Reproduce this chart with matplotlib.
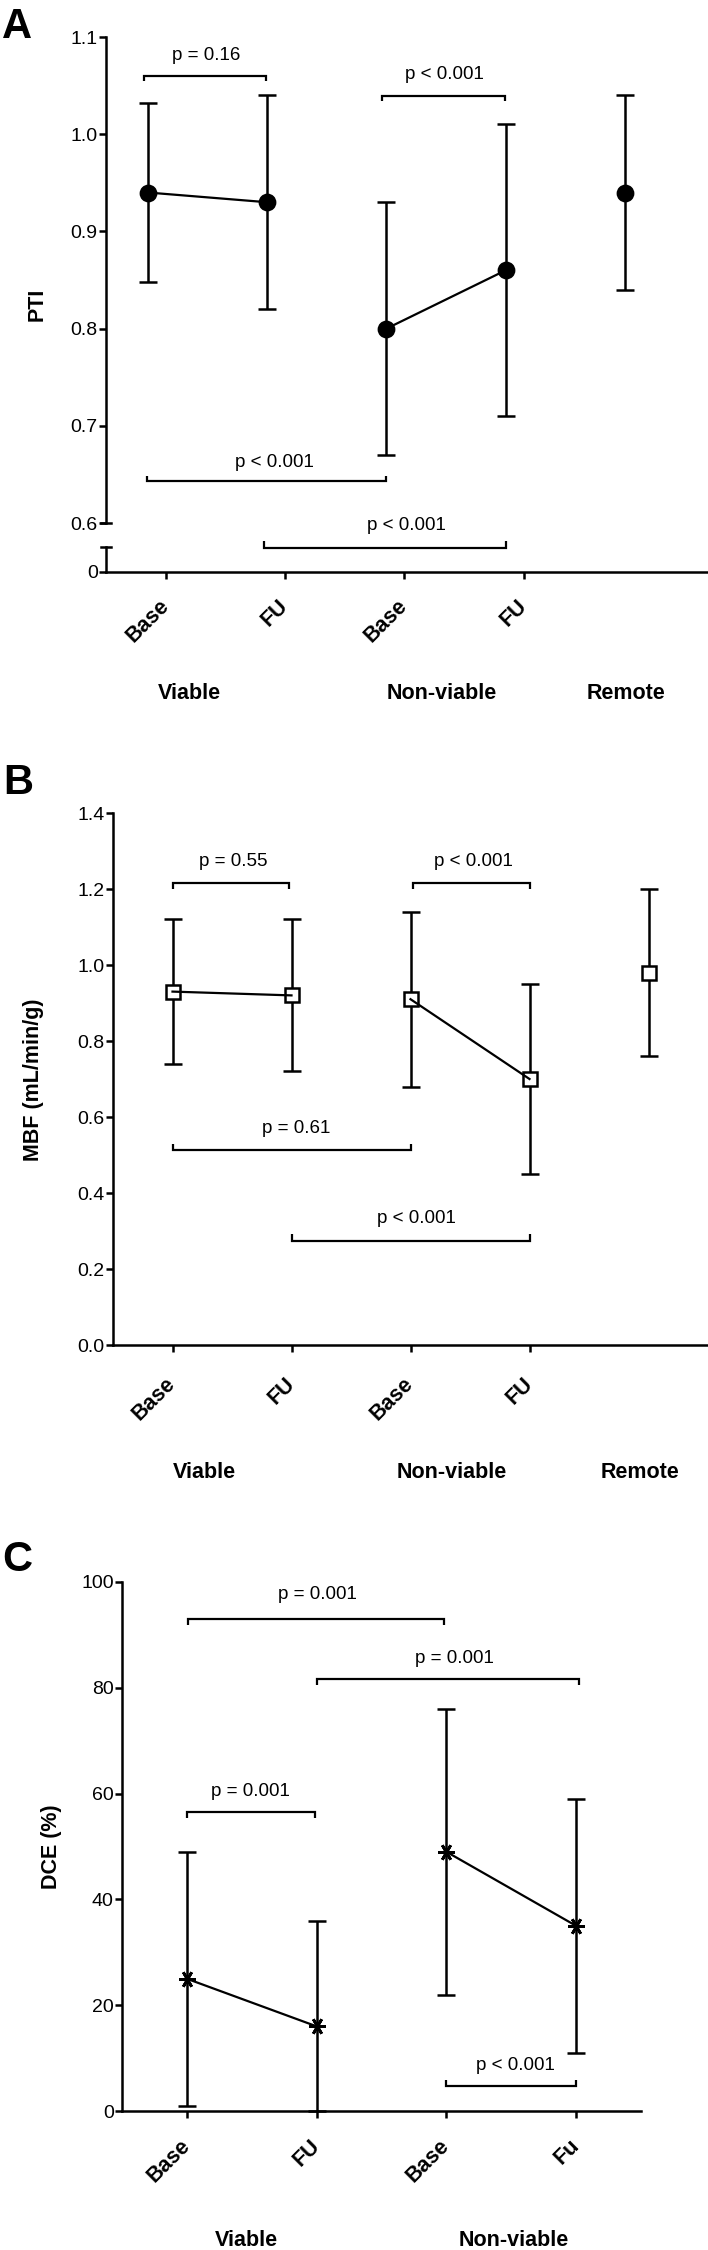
import matplotlib
matplotlib.use('Agg')
import matplotlib.pyplot as plt

plt.rcParams['font.family'] = ['Liberation Sans', 'DejaVu Sans']

# ---------------- data ----------------
pti_ticks = ['Base', 'FU', 'Base', 'FU']
pti_groups = ['Viable', 'Non-viable', 'Remote']
pti_mean = [0.94, 0.93, 0.80, 0.86, 0.94]
pti_low = [0.848, 0.82, 0.67, 0.71, 0.84]
pti_high = [1.032, 1.04, 0.93, 1.01, 1.04]
pti_pvals = ['p = 0.16', 'p < 0.001', 'p < 0.001', 'p < 0.001']

mbf_ticks = ['Base', 'FU', 'Base', 'FU']
mbf_groups = ['Viable', 'Non-viable', 'Remote']
mbf_mean = [0.93, 0.92, 0.91, 0.70, 0.98]
mbf_low = [0.74, 0.72, 0.68, 0.45, 0.76]
mbf_high = [1.12, 1.12, 1.14, 0.95, 1.20]
mbf_pvals = ['p = 0.55', 'p < 0.001', 'p = 0.61', 'p < 0.001']

dce_ticks = ['Base', 'FU', 'Base', 'Fu']
dce_groups = ['Viable', 'Non-viable']
dce_mean = [25, 16, 49, 35]
dce_low = [1, 0, 22, 11]
dce_high = [49, 36, 76, 59]
dce_pvals = ['p = 0.001', 'p = 0.001', 'p = 0.001', 'p < 0.001']

# ---------------- layout helpers ----------------
W, H = 708, 2250
fig = plt.figure(figsize=(W / 100, H / 100), dpi=100)


def rect(left, top, right, bottom):
    return [left / W, 1 - bottom / H, (right - left) / W, (bottom - top) / H]


LW = 1.8
TXT = 13.5
TICK = 14
BOLD = 15.5


def style(ax):
    ax.patch.set_visible(False)
    for s in ['top', 'right']:
        ax.spines[s].set_visible(False)
    for s in ['left', 'bottom']:
        ax.spines[s].set_linewidth(LW)
    ax.tick_params(direction='out', length=5, width=LW, labelsize=TICK, pad=1)


def bracket(ax, x1, x2, y, h, text, tx, ty):
    ax.plot([x1, x1, x2, x2], [y - h, y, y, y - h], color='black', lw=1.6,
            clip_on=False, solid_capstyle='butt', solid_joinstyle='miter', zorder=5)
    ax.text(tx, ty, text, ha='center', va='baseline', fontsize=TXT)


def draw_series(ax, x, mean, low, high, marker, ms, mfc, mew, pairs):
    yerr = [[m - l for m, l in zip(mean, low)], [h - m for m, h in zip(mean, high)]]
    ax.errorbar(x, mean, yerr=yerr, fmt='none', ecolor='black', elinewidth=LW,
                capsize=6.5, capthick=LW, zorder=2, clip_on=False)
    ax.plot(x, mean, linestyle='none', marker=marker, ms=ms, mfc=mfc, mec='black',
            mew=mew, zorder=3, clip_on=False)
    for a, b in pairs:
        ax.plot([x[a], x[b]], [mean[a], mean[b]], color='black', lw=1.6, zorder=4)


def group_labels(ax, xs, labels, ypix, va='center'):
    for xx, lab in zip(xs, labels):
        ax.annotate(lab, xy=(xx, 1 - ypix / H), xycoords=('data', 'figure fraction'),
                    ha='center', va=va, fontsize=BOLD, fontweight='bold',
                    annotation_clip=False)


# ================= Panel A =================
xa = list(range(len(pti_mean)))
axA_lo = fig.add_axes(rect(106, 547, 708, 572))
axA = fig.add_axes(rect(106, 37, 708, 523))
for ax in (axA, axA_lo):
    style(ax)
    ax.set_xlim(-0.352, 4.696)
axA.spines['bottom'].set_visible(False)
axA.set_ylim(0.6, 1.1)
axA.set_yticks([0.6, 0.7, 0.8, 0.9, 1.0, 1.1])
axA.set_yticklabels(['0.6', '0.7', '0.8', '0.9', '1.0', '1.1'])
axA.set_xticks([])
axA_lo.set_ylim(0, 1)
axA_lo.set_yticks([0])
axA_lo.set_yticklabels(['0'])
axA_lo.set_xticks([i + 0.15 for i in range(len(pti_ticks))])
axA_lo.set_xticklabels(pti_ticks, rotation=45, ha='right', va='center',
                       rotation_mode='anchor', fontweight='bold', fontsize=BOLD)
axA_lo.tick_params(axis='x', pad=17)
# break caps
capw = 5 / 602
axA.plot([-capw, capw], [0, 0], transform=axA.transAxes, color='black', lw=LW, clip_on=False)
axA_lo.plot([-capw, capw], [1, 1], transform=axA_lo.transAxes, color='black', lw=LW, clip_on=False)

draw_series(axA, xa, pti_mean, pti_low, pti_high, 'o', 11, 'black', LW, [(0, 1), (2, 3)])
bracket(axA, -0.03, 0.99, 1.060, 0.005, pti_pvals[0], 0.49, 1.076)
bracket(axA, 1.96, 2.99, 1.039, 0.005, pti_pvals[1], 2.49, 1.057)
bracket(axA, -0.01, 2.00, 0.643, -0.005, pti_pvals[2], 1.06, 0.658)
bracket(axA, 0.97, 3.00, 0.574, -0.007, pti_pvals[3], 2.17, 0.593)
group_labels(axA_lo, [0.35, 2.46, 4.01], pti_groups, 693)
fig.text(37 / W, 1 - 304 / H, 'PTI', rotation=90, ha='center', va='center',
         fontsize=BOLD, fontweight='bold')
fig.text(2 / W, 1 - 7 / H, 'A', ha='left', va='top', fontsize=30, fontweight='bold')

# ================= Panel B =================
xb = list(range(len(mbf_mean)))
axB = fig.add_axes(rect(113, 813, 708, 1345))
style(axB)
axB.set_xlim(-0.5, 4.5)
axB.set_ylim(0, 1.4)
axB.set_yticks([0, 0.2, 0.4, 0.6, 0.8, 1.0, 1.2, 1.4])
axB.set_yticklabels(['0.0', '0.2', '0.4', '0.6', '0.8', '1.0', '1.2', '1.4'])
axB.set_xticks(list(range(len(mbf_ticks))))
axB.set_xticklabels(mbf_ticks, rotation=45, ha='right', va='center',
                    rotation_mode='anchor', fontweight='bold', fontsize=BOLD)
axB.tick_params(axis='x', pad=21)
draw_series(axB, xb, mbf_mean, mbf_low, mbf_high, 's', 10.5, 'white', LW, [(0, 1), (2, 3)])
bracket(axB, 0.0, 0.98, 1.215, 0.016, mbf_pvals[0], 0.51, 1.26)
bracket(axB, 2.02, 3.0, 1.215, 0.016, mbf_pvals[1], 2.53, 1.26)
bracket(axB, 0.0, 2.0, 0.514, -0.016, mbf_pvals[2], 1.04, 0.558)
bracket(axB, 1.0, 3.0, 0.275, -0.016, mbf_pvals[3], 2.05, 0.321)
group_labels(axB, [0.27, 2.35, 3.93], mbf_groups, 1472)
fig.text(34 / W, 1 - 1080 / H, 'MBF (mL/min/g)', rotation=90, ha='center', va='center',
         fontsize=BOLD, fontweight='bold')
fig.text(3 / W, 1 - 763 / H, 'B', ha='left', va='top', fontsize=30, fontweight='bold')

# ================= Panel C =================
xc = list(range(len(dce_mean)))
axC = fig.add_axes(rect(122, 1582, 641, 2111))
style(axC)
axC.set_xlim(-0.5, 3.5)
axC.set_ylim(0, 100)
axC.set_yticks([0, 20, 40, 60, 80, 100])
axC.set_xticks(list(range(len(dce_ticks))))
axC.set_xticklabels(dce_ticks, rotation=45, ha='right', va='center',
                    rotation_mode='anchor', fontweight='bold', fontsize=BOLD)
axC.tick_params(axis='x', pad=18)
draw_series(axC, xc, dce_mean, dce_low, dce_high, (6, 2, 90), 12, 'black', 2.0, [(0, 1), (2, 3)])
bracket(axC, 0.01, 1.98, 93.0, 1.1, dce_pvals[0], 1.01, 96.8)
bracket(axC, 1.0, 3.02, 81.6, 1.1, dce_pvals[1], 2.06, 84.7)
bracket(axC, 0.0, 0.99, 56.5, 1.1, dce_pvals[2], 0.49, 59.6)
bracket(axC, 2.0, 3.0, 4.7, -1.1, dce_pvals[3], 2.53, 7.8)
group_labels(axC, [0.46, 2.52], dce_groups, 2246, va='baseline')
fig.text(51 / W, 1 - 1847 / H, 'DCE (%)', rotation=90, ha='center', va='center',
         fontsize=BOLD, fontweight='bold')
fig.text(2 / W, 1 - 1540 / H, 'C', ha='left', va='top', fontsize=30, fontweight='bold')

fig.savefig('out.png', dpi=100)
